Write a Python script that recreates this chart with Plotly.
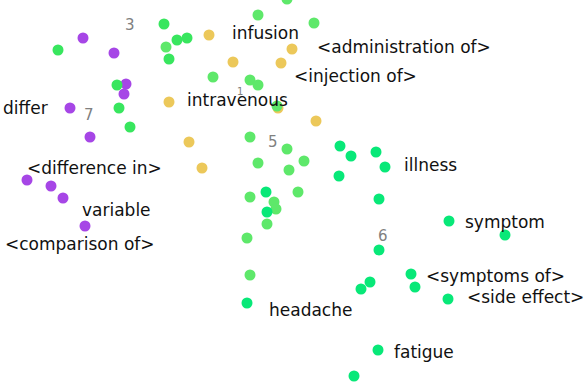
import plotly.graph_objects as go

# ---- data (2-D embedding coordinates, in plot units) ----
purple_x = [83, 114, 126, 124, 70, 90, 27, 51, 63, 85]
purple_y = [38, 53, 84, 94, 108, 137, 180, 186, 198, 226]

orange_x = [209, 292, 233, 281, 169, 278, 316, 189, 202]
orange_y = [35, 49, 62, 63, 102, 108, 121, 142, 168]

green_mid_x = [58, 164, 177, 187, 169, 117, 119, 130]
green_mid_y = [50, 24, 40, 38, 59, 85, 108, 127]

green_light_x = [166, 258, 314, 287, 213, 250, 258, 277, 250, 287, 258, 289, 304,
                 298, 250, 274, 276, 267, 247, 250]
green_light_y = [47, 15, 23, -1, 77, 80, 85, 106, 137, 149, 163, 170, 161,
                 192, 197, 202, 209, 224, 238, 275]

green_spring_x = [340, 351, 376, 385, 339, 266, 267, 379, 379, 449, 505, 370, 361,
                  247, 411, 415, 448, 378, 354]
green_spring_y = [146, 156, 152, 167, 176, 192, 212, 199, 250, 221, 235, 282, 289,
                  303, 274, 287, 299, 350, 376]

word_labels = ["infusion", "<administration of>", "<injection of>", "intravenous",
               "differ", "<difference in>", "variable", "<comparison of>",
               "illness", "symptom", "<symptoms of>", "<side effect>",
               "headache", "fatigue"]
word_x = [230, 315, 292, 185, 1, 25, 80, 3, 402, 463, 424, 465, 267, 392]
word_y = [33, 47, 76, 100, 108, 168, 210, 244, 165, 222, 276, 297, 310, 352]

cluster_labels = ["3", "7", "1", "5", "6"]
cluster_x = [130, 89, 240, 273, 383]
cluster_y = [25, 115, 91, 142, 236]

fig = go.Figure()

def add(xs, ys, color):
    fig.add_trace(go.Scatter(x=xs, y=ys, mode="markers",
                             marker=dict(size=11, color=color, line=dict(width=0)),
                             hoverinfo="skip", showlegend=False))

add(orange_x, orange_y, "#ecc85a")
add(purple_x, purple_y, "#a646e6")
add(green_mid_x, green_mid_y, "#38e65e")
add(green_light_x, green_light_y, "#5ee86a")
add(green_spring_x, green_spring_y, "#08e878")

for t, x, y in zip(cluster_labels, cluster_x, cluster_y):
    fig.add_annotation(x=x, y=y, text=t, showarrow=False, xanchor="center", yanchor="middle",
                       font=dict(family="DejaVu Sans", size=15 if t != "1" else 10, color="#808080"))

for t, x, y in zip(word_labels, word_x, word_y):
    fig.add_annotation(x=x, y=y, text=t.replace("<", "&lt;").replace(">", "&gt;"),
                       showarrow=False, xanchor="left", yanchor="middle",
                       font=dict(family="DejaVu Sans", size=17, color="#111111"))

fig.update_layout(
    width=584, height=382,
    margin=dict(l=0, r=0, t=0, b=0),
    paper_bgcolor="white", plot_bgcolor="white",
    xaxis=dict(range=[0, 584], visible=False, fixedrange=True),
    yaxis=dict(range=[382, 0], visible=False, fixedrange=True),
)

# remove the browser's default 8px body margin so the figure sits at the page origin
fig.write_html("out.html",
               config={"displayModeBar": False, "staticPlot": True},
               post_script="document.body.style.margin='0';document.body.style.overflow='hidden';")
